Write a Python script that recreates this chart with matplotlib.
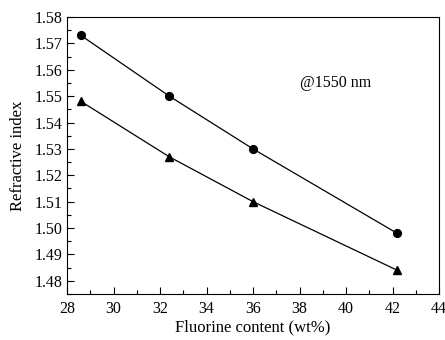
import matplotlib
matplotlib.use("Agg")
import matplotlib.pyplot as plt
from matplotlib.ticker import MultipleLocator

fluorine = [28.6, 32.4, 36.0, 42.2]
n_circle = [1.573, 1.550, 1.530, 1.498]
n_triangle = [1.548, 1.527, 1.510, 1.484]

plt.rcParams['font.family'] = ['Liberation Serif', 'DejaVu Serif']

fig = plt.figure(figsize=(4.45, 3.4), dpi=100)
ax = fig.add_axes([0.1506, 0.1353, 0.836, 0.8147])

ax.plot(fluorine, n_circle, color='black', lw=0.9, marker='o', ms=5.6)
ax.plot(fluorine, n_triangle, color='black', lw=0.9, marker='^', ms=6.2)

ax.set_xlim(28, 44)
ax.set_ylim(1.475, 1.58)
ax.xaxis.set_major_locator(MultipleLocator(2))
ax.xaxis.set_minor_locator(MultipleLocator(1))
ax.yaxis.set_major_locator(MultipleLocator(0.01))
ax.yaxis.set_minor_locator(MultipleLocator(0.005))
ax.tick_params(which='both', direction='in', top=False, right=False, labelsize=11.5)
ax.tick_params(which='major', length=5, width=0.8)
ax.tick_params(which='minor', length=3, width=0.8)
ax.tick_params(axis='x', pad=5)
ax.yaxis.set_major_formatter(matplotlib.ticker.FormatStrFormatter('%.2f'))
for s in ax.spines.values():
    s.set_linewidth(0.8)

ax.set_xlabel('Fluorine content (wt%)', fontsize=12, labelpad=2)
ax.set_ylabel('Refractive index', fontsize=12, labelpad=6)
ax.text(38.0, 1.555, '@1550 nm', fontsize=11.5, va='center', ha='left')

fig.savefig('out.png', dpi=100)
